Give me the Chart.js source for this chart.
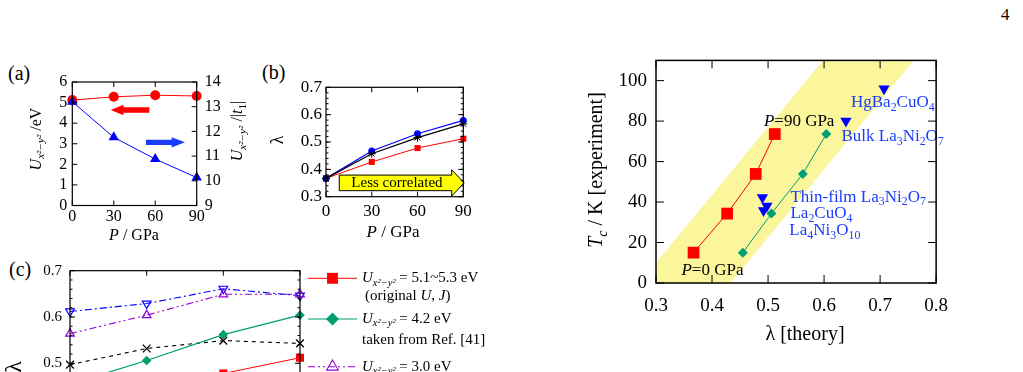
<!DOCTYPE html>
<html lang="en">
<head>
<meta charset="utf-8">
<title>lambda and Tc vs pressure</title>
<script src="https://cdn.jsdelivr.net/npm/chart.js@4.4.1/dist/chart.umd.min.js"></script>
<style>
  html, body { margin: 0; padding: 0; background: #fff; overflow: hidden; width: 1023px; height: 372px; }
  body { position: relative; font-family: "Liberation Serif", "Times New Roman", serif; color: #000; }
  canvas { position: absolute; }
  .lbl { position: absolute; font-size: 20px; line-height: 20px; }
</style>
</head>
<body>
<div class="lbl" style="left:8px;top:63px">(a)</div>
<div class="lbl" style="left:262px;top:62px">(b)</div>
<div class="lbl" style="left:9px;top:259px">(c)</div>
<div class="lbl" style="left:1001px;top:5px;font-size:17px">4</div>

<canvas id="chartA" width="260" height="190" style="left:0;top:60px"></canvas>
<canvas id="chartB" width="230" height="190" style="left:250px;top:60px"></canvas>
<canvas id="chartC" width="520" height="250" style="left:0;top:250px"></canvas>
<canvas id="chartD" width="400" height="320" style="left:560px;top:40px"></canvas>

<script>
// ---------- data ----------
var pressures = [0, 30, 60, 90];

// (a) U_{x2-y2} in eV (left axis) and U/|t1| (right axis)
var uEv = [5.12, 5.28, 5.36, 5.32];
var uOverT1 = [13.2, 11.76, 10.88, 10.13];

// (b) lambda vs pressure
var lamRed = [0.367, 0.427, 0.478, 0.512];
var lamBlack = [0.367, 0.457, 0.516, 0.566];
var lamBlue = [0.367, 0.467, 0.530, 0.579];

// (c) lambda vs pressure for several U
var lamU53 = [0.367, 0.427, 0.478, 0.512];
var lamU42 = [0.455, 0.506, 0.562, 0.604];
var lamU30 = [0.564, 0.604, 0.649, 0.649];
var lamUBlue = [0.612, 0.629, 0.661, 0.646];
var lamUBlack = [0.497, 0.532, 0.549, 0.543];
var cLegend = [
  ['*U*_[x²−y²] = 5.1~5.3 eV', '(original *U*, *J*)'],
  ['*U*_[x²−y²] = 4.2 eV', 'taken from Ref. [41]'],
  ['*U*_[x²−y²] = 3.0 eV']
];

// (d) Tc (experiment) vs lambda (theory)
var tcExp = [15, 34.3, 53.9, 73.6];
var lamOrig = [0.367, 0.427, 0.478, 0.512];
var lamRef41 = [0.455, 0.506, 0.562, 0.604];
var matNames = ['HgBa_{2}CuO_{4}', 'Bulk La_{3}Ni_{2}O_{7}', 'Thin-film La_{3}Ni_{2}O_{7}', 'La_{2}CuO_{4}', 'La_{4}Ni_{3}O_{10}'];
var matLam = [0.707, 0.639, 0.490, 0.498, 0.492];
var matTc = [96, 80, 42.3, 38, 35.8];
var bandLam = [0.270, 0.433, 0.760, 0.598];
var bandTc = [0, 0, 110, 110];

// tick values
var pTicks = [0, 30, 60, 90];
var uTicks = [0, 1, 2, 3, 4, 5, 6];
var ratioTicks = [9, 10, 11, 12, 13, 14];
var lamTicks = [0.3, 0.4, 0.5, 0.6, 0.7];
var lamDTicks = [0.3, 0.4, 0.5, 0.6, 0.7, 0.8];
var tcTicks = [0, 20, 40, 60, 80, 100];

// ---------- helpers ----------
var SERIF = '"Liberation Serif", "Times New Roman", serif';

function pts(xs, ys) {
  return xs.map(function (x, i) { return { x: x, y: ys[i] }; });
}

// *it*  _{sub}  _[italic sub]  ^{sup}
function parseRich(s) {
  var out = [], m;
  var re = /\*([^*]+)\*|_\{([^}]*)\}|_\[([^\]]*)\]|\^\{([^}]*)\}|([^*_^]+)/g;
  while ((m = re.exec(s))) {
    if (m[1] != null) out.push([m[1], 'i']);
    else if (m[2] != null) out.push([m[2], 'b']);
    else if (m[3] != null) out.push([m[3], 'bi']);
    else if (m[4] != null) out.push([m[4], 'p']);
    else out.push([m[5], '']);
  }
  return out;
}

function drawRich(ctx, str, x, y, size, opt) {
  opt = opt || {};
  var segs = parseRich(str).map(function (p) {
    var f = p[1];
    var small = f.indexOf('b') >= 0 || f.indexOf('p') >= 0;
    ctx.font = (f.indexOf('i') >= 0 ? 'italic ' : '') + (small ? size * 0.7 : size).toFixed(1) + 'px ' + SERIF;
    return { t: p[0], font: ctx.font, w: ctx.measureText(p[0]).width,
             dy: f.indexOf('b') >= 0 ? size * 0.3 : (f.indexOf('p') >= 0 ? -size * 0.3 : 0) };
  });
  var total = segs.reduce(function (a, s) { return a + s.w; }, 0);
  ctx.save();
  ctx.translate(x, y);
  if (opt.rotate) ctx.rotate(opt.rotate);
  var cx = opt.align === 'center' ? -total / 2 : (opt.align === 'right' ? -total : 0);
  ctx.fillStyle = opt.color || '#000';
  ctx.textBaseline = 'middle';
  ctx.textAlign = 'left';
  segs.forEach(function (s) { ctx.font = s.font; ctx.fillText(s.t, cx, s.dy); cx += s.w; });
  ctx.restore();
}

function hArrow(ctx, xs, ys, a) {
  var X = function (v) { return xs.getPixelForValue(v); };
  var Y = function (v) { return ys.getPixelForValue(v); };
  ctx.save();
  ctx.beginPath();
  ctx.moveTo(X(a.from), Y(a.y + a.half));
  ctx.lineTo(X(a.head), Y(a.y + a.half));
  ctx.lineTo(X(a.head), Y(a.y + a.headHalf));
  ctx.lineTo(X(a.to), Y(a.y));
  ctx.lineTo(X(a.head), Y(a.y - a.headHalf));
  ctx.lineTo(X(a.head), Y(a.y - a.half));
  ctx.lineTo(X(a.from), Y(a.y - a.half));
  ctx.closePath();
  ctx.fillStyle = a.color;
  ctx.fill();
  if (a.stroke) { ctx.strokeStyle = a.stroke; ctx.lineWidth = 1; ctx.stroke(); }
  ctx.restore();
}

function axis(pos, min, max, values, fmt, size, pad, fitProp, fitVal) {
  return {
    type: 'linear', position: pos, min: min, max: max,
    grid: { display: false, drawTicks: false },
    border: { display: false },
    afterBuildTicks: function (s) { s.ticks = values.map(function (v) { return { value: v }; }); },
    afterFit: function (s) { s[fitProp] = fitVal; },
    ticks: { autoSkip: false, maxRotation: 0, padding: pad, color: '#000',
             font: { family: SERIF, size: size }, callback: function (v) { return fmt(v); } }
  };
}
var int = function (v) { return String(Math.round(v)); };
var one = function (v) { return v.toFixed(1); };

// frame + inward ticks on all four sides
var frame = {
  id: 'frame',
  afterDatasetsDraw: function (chart, args, o) {
    var ctx = chart.ctx, a = chart.chartArea, sc = chart.scales;
    ctx.save();
    ctx.strokeStyle = '#000';
    ctx.lineWidth = 1;
    ctx.beginPath();
    function tk(x1, y1, x2, y2) { ctx.moveTo(x1, y1); ctx.lineTo(x2, y2); }
    sc.x.ticks.forEach(function (t) {
      var p = sc.x.getPixelForValue(t.value);
      tk(p, a.bottom, p, a.bottom - o.len);
      tk(p, a.top, p, a.top + o.len);
    });
    sc.y.ticks.forEach(function (t) {
      var p = sc.y.getPixelForValue(t.value);
      tk(a.left, p, a.left + o.len, p);
      if (!sc.y2) tk(a.right, p, a.right - o.len, p);
    });
    if (sc.y2) sc.y2.ticks.forEach(function (t) {
      var p = sc.y2.getPixelForValue(t.value);
      tk(a.right, p, a.right - o.len, p);
    });
    if (o.minor) {
      var n = Math.round((sc.y.max - sc.y.min) / o.minor);
      for (var i = 1; i < n; i++) {
        var p = sc.y.getPixelForValue(sc.y.min + i * o.minor);
        tk(a.left, p, a.left + o.len / 2, p);
        tk(a.right, p, a.right - o.len / 2, p);
      }
    }
    ctx.stroke();
    ctx.lineWidth = o.lw;
    ctx.strokeRect(a.left, a.top, a.right - a.left, a.bottom - a.top);
    ctx.restore();
  }
};

var base = {
  responsive: false,
  animation: false,
  devicePixelRatio: 1,
  events: [],
};
function opts(extra) { return Object.assign({}, base, extra); }

// ---------- (a) ----------
new Chart(document.getElementById('chartA'), {
  type: 'scatter',
  data: {
    datasets: [
      { data: pts(pressures, uOverT1), yAxisID: 'y2', showLine: true, clip: false,
        borderColor: '#0000ff', backgroundColor: '#0000ff', borderWidth: 1,
        pointStyle: 'triangle', pointRadius: 6, pointBorderWidth: 0 },
      { data: pts(pressures, uEv), yAxisID: 'y', showLine: true, clip: false,
        borderColor: '#ff0000', backgroundColor: '#ff0000', borderWidth: 1,
        pointStyle: 'circle', pointRadius: 5, pointBorderWidth: 0 }
    ]
  },
  options: opts({
    layout: { padding: { top: 22, left: 0, right: 0, bottom: 0 } },
    scales: {
      x: axis('bottom', 0, 90, pTicks, int, 16, 2, 'height', 44.5),
      y: axis('left', 0, 6, uTicks, int, 16, 5, 'width', 72.3),
      y2: axis('right', 9, 14, ratioTicks, int, 16, 8, 'width', 63.3)
    },
    plugins: { legend: { display: false }, tooltip: { enabled: false },
               frame: { len: 5, lw: 1.2 } }
  }),
  plugins: [frame, {
    id: 'textA',
    afterDatasetsDraw: function (chart) {
      var ctx = chart.ctx, x = chart.scales.x, y = chart.scales.y;
      hArrow(ctx, x, y, { from: 55.7, head: 37, to: 27.8, y: 4.64, half: 0.13, headHalf: 0.25, color: '#ff0000' });
      hArrow(ctx, x, y, { from: 53.3, head: 71.9, to: 81.5, y: 3.07, half: 0.13, headHalf: 0.25, color: '#1a3cff' });
    },
    afterDraw: function (chart) {
      var ctx = chart.ctx;
      drawRich(ctx, '*U*_[x²−y²] /eV', 36.7, 79, 16, { rotate: -Math.PI / 2, align: 'center' });
      drawRich(ctx, '*U*_[x²−y²] /|*t*_{1}|', 238, 71, 16, { rotate: -Math.PI / 2, align: 'center' });
      drawRich(ctx, '*P* / GPa', 134, 176, 16, { align: 'center' });
    }
  }]
});

// ---------- (b) ----------
new Chart(document.getElementById('chartB'), {
  type: 'scatter',
  data: {
    datasets: [
      { data: pts(pressures, lamBlack), showLine: true, clip: false,
        borderColor: '#000', backgroundColor: '#000', borderWidth: 1.2,
        pointStyle: 'star', pointRadius: 4, pointBorderWidth: 1 },
      { data: pts(pressures, lamBlue), showLine: true, clip: false,
        borderColor: '#0000ff', backgroundColor: '#0000ff', borderWidth: 1.2,
        pointStyle: 'circle', pointRadius: 3.5, pointBorderWidth: 0 },
      { data: pts(pressures, lamRed), showLine: true, clip: false,
        borderColor: '#ff0000', backgroundColor: '#ff0000', borderWidth: 1,
        pointStyle: 'rect', pointRadius: 4.3, pointBorderWidth: 0 }
    ]
  },
  options: opts({
    layout: { padding: { top: 27.3, left: 0, right: 16.7, bottom: 0 } },
    scales: {
      x: axis('bottom', 0, 90, pTicks, int, 17, 5, 'height', 53.3),
      y: axis('left', 0.3, 0.7, lamTicks, one, 17, 4, 'width', 76)
    },
    plugins: { legend: { display: false }, tooltip: { enabled: false },
               frame: { len: 5, lw: 1.2, minor: 0.02 } }
  }),
  plugins: [{
    id: 'arrowB',
    beforeDatasetsDraw: function (chart) {
      var ctx = chart.ctx, x = chart.scales.x, y = chart.scales.y;
      hArrow(ctx, x, y, { from: 8.7, head: 82.4, to: 90.6, y: 0.3505, half: 0.0285, headHalf: 0.048,
                          color: '#ffff00', stroke: '#000' });
      drawRich(ctx, 'Less correlated', x.getPixelForValue(46.5), y.getPixelForValue(0.35), 15, { align: 'center' });
    }
  }, frame, {
    id: 'textB',
    afterDraw: function (chart) {
      var ctx = chart.ctx;
      drawRich(ctx, 'λ', 28, 80, 18, { rotate: -Math.PI / 2, align: 'center' });
      drawRich(ctx, '*P* / GPa', 143, 173, 17, { align: 'center' });
    }
  }]
});

// ---------- (c) ----------
var cSets = [
  { data: pts(pressures, lamU53), showLine: true, clip: false,
    borderColor: '#ff0000', backgroundColor: '#ff0000', borderWidth: 1,
    pointStyle: 'rect', pointRadius: 5.7, pointBorderWidth: 0 },
  { data: pts(pressures, lamU42), showLine: true, clip: false,
    borderColor: '#009e73', backgroundColor: '#009e73', borderWidth: 1.2,
    pointStyle: 'rectRot', pointRadius: 4.8, pointBorderWidth: 0 },
  { data: pts(pressures, lamU30), showLine: true, clip: false,
    borderColor: '#9400d3', backgroundColor: 'rgba(0,0,0,0)', borderWidth: 1.1, borderDash: [7, 3, 2, 3, 2, 3],
    pointStyle: 'triangle', pointRadius: 5, pointBorderWidth: 1.2, pointBorderColor: '#9400d3' },
  { data: pts(pressures, lamUBlue), showLine: true, clip: false,
    borderColor: '#0000ff', backgroundColor: 'rgba(0,0,0,0)', borderWidth: 1.1, borderDash: [7, 3, 2, 3],
    pointStyle: 'triangle', pointRotation: 180, pointRadius: 5, pointBorderWidth: 1.2, pointBorderColor: '#0000ff' },
  { data: pts(pressures, lamUBlack), showLine: true, clip: false,
    borderColor: '#000', backgroundColor: '#000', borderWidth: 1.1, borderDash: [4, 4],
    pointStyle: 'crossRot', pointRadius: 5.5, pointBorderWidth: 1.3 }
];
var cLegendPos = { x0: 308, x1: 357, tx: 362, rows: [[28.3, 45.7, 365], [69, 90, 362], [116.7]], sets: [0, 1, 2] };

new Chart(document.getElementById('chartC'), {
  type: 'scatter',
  data: { datasets: cSets },
  options: opts({
    layout: { padding: { top: 20.7, left: 0, right: 220, bottom: 0 } },
    scales: {
      x: axis('bottom', 0, 90, pTicks, int, 15, 5, 'height', 44.1),
      y: axis('left', 0.3, 0.7, lamTicks, one, 15, 8, 'width', 70)
    },
    plugins: { legend: { display: false }, tooltip: { enabled: false },
               frame: { len: 5, lw: 1.2, minor: 0.02 } }
  }),
  plugins: [frame, {
    id: 'legendC',
    afterDraw: function (chart) {
      var ctx = chart.ctx, L = cLegendPos;
      cLegend.forEach(function (lines, i) {
        var ds = chart.data.datasets[L.sets[i]];
        var row = L.rows[i];
        ctx.save();
        ctx.strokeStyle = ds.borderColor;
        ctx.lineWidth = ds.borderWidth;
        ctx.setLineDash(ds.borderDash || []);
        ctx.beginPath();
        ctx.moveTo(L.x0, row[0]);
        ctx.lineTo(L.x1, row[0]);
        ctx.stroke();
        ctx.setLineDash([]);
        ctx.fillStyle = ds.backgroundColor;
        ctx.strokeStyle = ds.pointBorderColor || ds.borderColor;
        Chart.helpers.drawPoint(ctx, { pointStyle: ds.pointStyle, rotation: ds.pointRotation || 0,
          radius: ds.pointRadius * 1.35, borderWidth: ds.pointBorderWidth }, (L.x0 + L.x1) / 2, row[0]);
        ctx.restore();
        drawRich(ctx, lines[0], L.tx, row[0], 15);
        if (lines[1]) drawRich(ctx, lines[1], row[2], row[1], 15);
      });
      drawRich(ctx, 'λ', 15, 117, 24, { rotate: -Math.PI / 2, align: 'center' });
    }
  }]
});

// ---------- (d) ----------
var dNotes = [
  { text: '*P*=90 GPa', x: 0.4926, y: 79.7, color: '#000' },
  { text: '*P*=0 GPa', x: 0.3454, y: 6.4, color: '#000' },
  { text: matNames[0], x: 0.648, y: 89, color: '#1a3cff' },
  { text: matNames[1], x: 0.631, y: 72.2, color: '#1a3cff' },
  { text: matNames[2], x: 0.540, y: 42.4, color: '#1a3cff' },
  { text: matNames[3], x: 0.540, y: 34.2, color: '#1a3cff' },
  { text: matNames[4], x: 0.538, y: 26, color: '#1a3cff' }
];

new Chart(document.getElementById('chartD'), {
  type: 'scatter',
  data: {
    datasets: [
      { data: pts(matLam, matTc), showLine: false, clip: false,
        backgroundColor: '#0000ff', borderColor: '#0000ff',
        pointStyle: 'triangle', pointRotation: 180, pointRadius: 6.5, pointBorderWidth: 0 },
      { data: pts(lamOrig, tcExp), showLine: true, clip: false,
        borderColor: '#ff0000', backgroundColor: '#ff0000', borderWidth: 1,
        pointStyle: 'rect', pointRadius: 8.3, pointBorderWidth: 0 },
      { data: pts(lamRef41, tcExp), showLine: true, clip: false,
        borderColor: '#009e73', backgroundColor: '#009e73', borderWidth: 1,
        pointStyle: 'rectRot', pointRadius: 5, pointBorderWidth: 0 },
      { data: pts(bandLam, bandTc), showLine: true, order: 10,
        borderWidth: 0, borderColor: 'rgba(0,0,0,0)', backgroundColor: '#fbf59c',
        fill: 'shape', pointRadius: 0 }
    ]
  },
  options: opts({
    layout: { padding: { top: 19, left: 0, right: 21, bottom: 0 } },
    scales: {
      x: axis('bottom', 0.3, 0.8, lamDTicks, one, 19, 12, 'height', 77),
      y: axis('left', 0, 110, tcTicks, int, 19, 9, 'width', 96)
    },
    plugins: { legend: { display: false }, tooltip: { enabled: false },
               filler: { propagate: false },
               frame: { len: 8, lw: 1.5 } }
  }),
  plugins: [{
    id: 'notesD',
    afterDatasetsDraw: function (chart) {
      var ctx = chart.ctx, x = chart.scales.x, y = chart.scales.y;
      dNotes.forEach(function (n) {
        drawRich(ctx, n.text, x.getPixelForValue(n.x), y.getPixelForValue(n.y), 17, { color: n.color });
      });
    }
  }, frame, {
    id: 'titlesD',
    afterDraw: function (chart) {
      var ctx = chart.ctx;
      drawRich(ctx, '*T*_[c] / K [experiment]', 37, 130, 20, { rotate: -Math.PI / 2, align: 'center' });
      drawRich(ctx, 'λ [theory]', 245, 295, 20, { align: 'center' });
    }
  }]
});
</script>
</body>
</html>
